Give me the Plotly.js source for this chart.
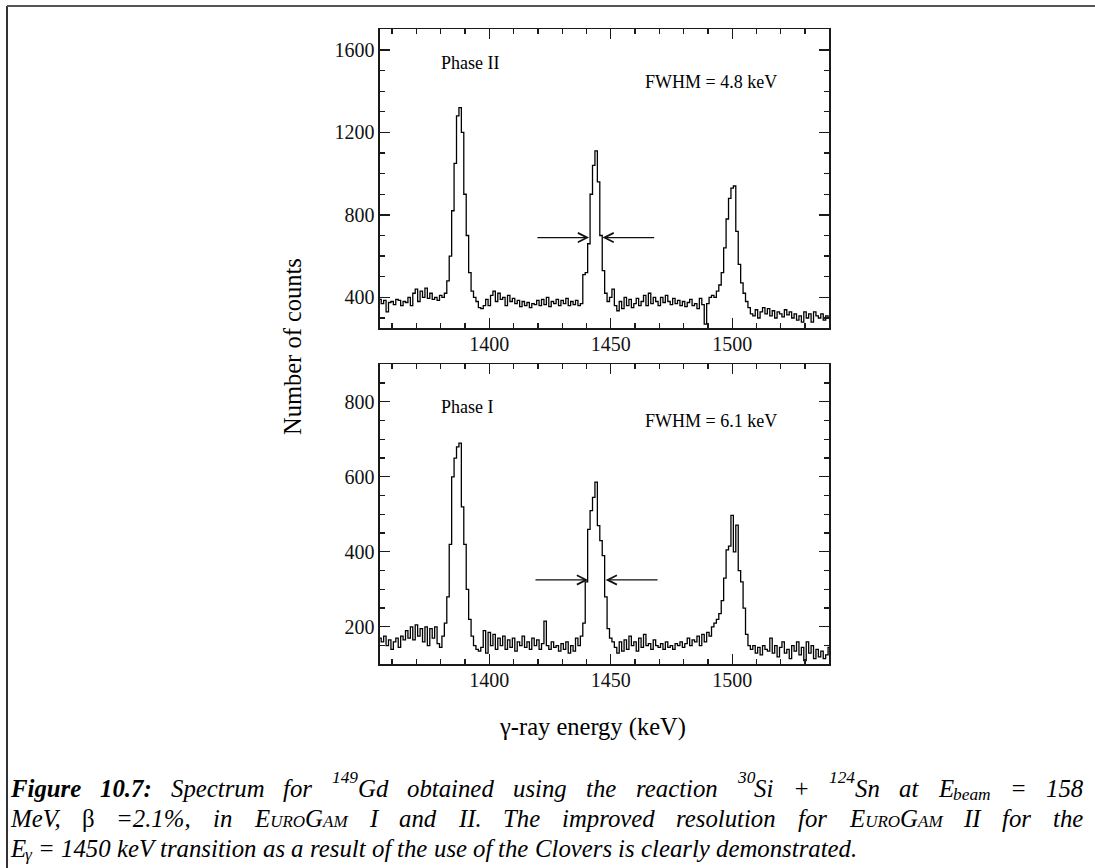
<!DOCTYPE html>
<html>
<head>
<meta charset="utf-8">
<script src="https://cdn.plot.ly/plotly-3.0.1.min.js"></script>
<style>html,body{margin:0;padding:0;background:#fff;}#chart{width:1095px;height:868px;}</style>
</head>
<body>
<div id="chart"></div>
<script>
// Energy bins (keV), 1 keV wide
const energyStart = 1355;
const energyEnd = 1540;
const energies = [];
for (let e = energyStart; e <= energyEnd; e++) energies.push(e);

// Phase II (EUROGAM II) counts, 1355..1540 keV
const countsPhaseII = [
  390, 370, 385, 330, 375, 380, 365, 390, 385,
  360, 380, 375, 400, 360, 420, 440,
  380, 430, 400, 445, 395, 420, 390, 400,
  385, 410,
  400, 420, 480, 600, 820, 1050, 1280, 1320, 1200, 900, 700, 520, 430, 400, 380, 350, 345, 360,
  390, 360, 410, 430, 380, 420, 390, 400, 360, 410, 380, 395,
  370, 385, 355, 380, 360, 375, 350, 370, 365, 385, 360, 390, 365, 400, 355, 380, 370, 390, 360, 385,
  370, 395, 360, 380, 365, 385, 360, 370,
  510, 520, 660, 900, 1040, 1110, 960, 700, 530, 420, 380,
  400, 440, 360, 335, 380, 345, 400, 360, 390, 350, 370, 395, 360, 380, 410, 360, 420, 370, 400, 380, 360,
  400, 375, 410, 380, 365, 395, 370, 385, 360, 380, 355, 375, 390, 360, 370, 345, 395, 365, 270, 370, 400, 410,
  400, 430, 460, 520, 640, 780, 880, 930, 940, 720, 560, 470, 420, 380, 350, 320,
  310, 340, 300, 330, 350, 320, 345, 310, 335, 300, 330, 320, 305, 340, 315, 330, 300, 320, 290, 310, 280, 330, 300, 320, 280, 330, 310, 300, 320, 290, 310, 300
];

// Phase I (EUROGAM I) counts, 1355..1540 keV
const countsPhaseI = [
  170, 160, 175, 150, 165, 140, 160, 170, 145, 175, 165, 190, 170, 200, 165, 205, 175, 195, 160, 200, 150, 195, 170, 200, 155, 145,
  175, 210, 280, 420, 600, 650, 680, 690, 520, 420, 300, 220, 175, 150, 140,
  135, 145, 190, 130, 185, 150, 180, 140, 170, 150, 175, 140, 165, 145, 170, 135, 160, 150, 175, 145, 160, 140, 170, 150, 165, 140, 155, 215, 150, 140, 160, 145, 150, 135, 155, 140, 160, 130, 150, 135, 170,
  150, 175, 210, 320, 460, 510, 545, 586, 470, 430, 390, 280, 195, 170, 160,
  145, 130, 160, 135, 165, 140, 175, 150, 160, 135, 170, 145, 180, 150, 155, 140, 165, 150, 145, 155, 140, 160, 145, 150, 140, 155, 150, 160, 145, 155, 170, 150, 165, 160, 175, 150, 180, 160, 185, 175, 200,
  210, 220, 235, 270, 330, 405, 415, 497, 400, 471, 350, 320, 250, 180, 150, 140,
  150, 130, 145, 125, 150, 140, 135, 170, 130, 150, 120, 145, 160, 130, 140, 115, 150, 135, 160, 125, 145, 110, 160, 130, 150, 115, 140, 120, 135, 115, 125, 145
];

// Axis ticks
const xTickVals = [1400, 1450, 1500];
const yTickValsII = [400, 800, 1200, 1600];
const yTickValsI = [200, 400, 600, 800];

// FWHM arrow positions (keV, counts): [left tail, left tip, right tip, right tail, level]
const arrowsII = [1419.2, 1441.1, 1446.6, 1468.5, 690];
const arrowsI = [1418.4, 1440.7, 1447.9, 1469.9, 325];

// Caption words: each word is a list of [text, kind] pieces
// kinds: 'bi' bold italic, 'i' italic, 'r' roman, 'sc' italic small caps, 'sup', 'sub'
const captionLine1 = [
  [['Figure', 'bi']], [['10.7:', 'bi']], [['Spectrum', 'i']], [['for', 'i']],
  [['149', 'sup'], ['Gd', 'i']], [['obtained', 'i']], [['using', 'i']], [['the', 'i']],
  [['reaction', 'i']], [['30', 'sup'], ['Si', 'i']], [['+', 'i']], [['124', 'sup'], ['Sn', 'i']],
  [['at', 'i']], [['E', 'i'], ['beam', 'sub']], [['=', 'i']], [['158', 'i']]
];
const captionLine2 = [
  [['MeV,', 'i']], [['β', 'r']], [['=2.1%,', 'i']], [['in', 'i']], [['EuroGam', 'sc']],
  [['I', 'i']], [['and', 'i']], [['II.', 'i']], [['The', 'i']], [['improved', 'i']],
  [['resolution', 'i']], [['for', 'i']], [['EuroGam', 'sc']], [['II', 'i']], [['for', 'i']], [['the', 'i']]
];
const captionLine3 = [
  [['E', 'i'], ['γ', 'sub']], [['=', 'i']], [['1450', 'i']], [['keV', 'i']], [['transition', 'i']],
  [['as', 'i']], [['a', 'i']], [['result', 'i']], [['of', 'i']], [['the', 'i']], [['use', 'i']],
  [['of', 'i']], [['the', 'i']], [['Clovers', 'i']], [['is', 'i']], [['clearly', 'i']], [['demonstrated.', 'i']]
];

const serif = 'Liberation Serif';
const lineCol = '#1a1a1a';

const traces = [
  {x: energies, y: countsPhaseII, xaxis: 'x', yaxis: 'y', type: 'scatter', mode: 'lines',
   line: {shape: 'hvh', color: '#000', width: 1.3}, hoverinfo: 'x+y'},
  {x: energies, y: countsPhaseI, xaxis: 'x2', yaxis: 'y2', type: 'scatter', mode: 'lines',
   line: {shape: 'hvh', color: '#000', width: 1.3}, hoverinfo: 'x+y'}
];

function xAx(anchor) {
  return {
    domain: [380/1095, 829.3/1095], range: [1355, 1540], anchor: anchor,
    tickmode: 'array', tickvals: xTickVals,
    ticks: 'inside', ticklen: 10, tickwidth: 1.3, tickcolor: lineCol,
    ticklabelstandoff: -3,
    minor: {tickmode: 'linear', tick0: 1350, dtick: 10, ticks: 'inside', ticklen: 5, tickwidth: 1.3, tickcolor: lineCol, showgrid: false},
    showline: true, linecolor: lineCol, linewidth: 1.6, mirror: 'ticks',
    showgrid: false, zeroline: false,
    tickfont: {family: serif, size: 20, color: '#111'}
  };
}
function yAx(anchor, dom, rng, vals, minorD) {
  return {
    domain: dom, range: rng, anchor: anchor,
    tickmode: 'array', tickvals: vals,
    ticks: 'inside', ticklen: 10, tickwidth: 1.3, tickcolor: lineCol,
    minor: {tickmode: 'linear', tick0: 0, dtick: minorD, ticks: 'inside', ticklen: 5, tickwidth: 1.3, tickcolor: lineCol, showgrid: false},
    showline: true, linecolor: lineCol, linewidth: 1.6, mirror: 'ticks',
    showgrid: false, zeroline: false,
    tickfont: {family: serif, size: 20, color: '#111'}
  };
}

function px(x) { return x / 1095; }
function py(y) { return 1 - y / 868; }

function arrowPair(vals, xr, yr) {
  return [
    {x: vals[1], y: vals[4], ax: vals[0], ay: vals[4], xref: xr, yref: yr, axref: xr, ayref: yr,
     text: '', showarrow: true, arrowhead: 5, arrowsize: 1.4, arrowwidth: 1.3, arrowcolor: '#111'},
    {x: vals[2], y: vals[4], ax: vals[3], ay: vals[4], xref: xr, yref: yr, axref: xr, ayref: yr,
     text: '', showarrow: true, arrowhead: 5, arrowsize: 1.4, arrowwidth: 1.3, arrowcolor: '#111'}
  ];
}

const txt = (text, x, y, size, opts) => Object.assign({
  text: text, x: px(x), y: py(y), xref: 'paper', yref: 'paper', showarrow: false,
  xanchor: 'left', yanchor: 'middle', borderpad: 0, borderwidth: 0,
  font: {family: serif, size: size, color: '#000'}
}, opts || {});

// ---- caption layout (justified lines) ----
const capSize = 24.8;
const canvas = document.createElement('canvas');
const ctx = canvas.getContext('2d');
function pieceFont(kind) {
  const size = (kind === 'sup' || kind === 'sub') ? capSize * 0.7 : capSize;
  return {
    size: size,
    style: kind === 'r' ? 'normal' : 'italic',
    weight: kind === 'bi' ? 'bold' : 'normal',
    variant: kind === 'sc' ? 'small-caps' : 'normal'
  };
}
function pieceWidth(text, kind) {
  const f = pieceFont(kind);
  ctx.font = f.style + ' ' + f.variant + ' ' + f.weight + ' ' + f.size + 'px "' + serif + '"';
  return ctx.measureText(text).width;
}
function layoutLine(words, left, right, yc, justify) {
  const widths = words.map(w => w.reduce((s, p) => s + pieceWidth(p[0], p[1]), 0));
  const total = widths.reduce((a, b) => a + b, 0);
  const gap = justify ? (right - left - total) / (words.length - 1) : pieceWidth(' ', 'i');
  const out = [];
  let x = left;
  words.forEach((w, i) => {
    let xx = x;
    w.forEach(p => {
      const f = pieceFont(p[1]);
      const shift = p[1] === 'sup' ? capSize * 0.42 : (p[1] === 'sub' ? -capSize * 0.28 : 0);
      out.push(txt(p[0], xx, yc, f.size, {
        yshift: shift,
        font: {family: serif, size: f.size, color: '#000', style: f.style, weight: f.weight, variant: f.variant}
      }));
      xx += pieceWidth(p[0], p[1]);
    });
    x += widths[i] + gap;
  });
  return out;
}

const annotations = [
  txt('Phase II', 441, 63, 18),
  txt('FWHM = 4.8 keV', 645, 82, 18),
  txt('Phase I', 441, 407, 18),
  txt('FWHM = 6.1 keV', 645, 421, 18),
  txt('Number of counts', 293, 347, 24.5, {xanchor: 'center', textangle: -90}),
  txt('γ-ray energy (keV)', 592, 727, 24.5, {xanchor: 'center'})
]
  .concat(layoutLine(captionLine1, 10, 1083, 788, true))
  .concat(layoutLine(captionLine2, 10, 1083, 818, true))
  .concat(layoutLine(captionLine3, 10, 1083, 848, false))
  .concat(arrowPair(arrowsII, 'x', 'y'))
  .concat(arrowPair(arrowsI, 'x2', 'y2'));

const shapes = [
  {type: 'line', xref: 'paper', yref: 'paper', x0: px(7), x1: px(7), y0: py(6), y1: 0, line: {color: '#333', width: 2}},
  {type: 'line', xref: 'paper', yref: 'paper', x0: px(7), x1: 1, y0: py(6), y1: py(6), line: {color: '#555', width: 2}}
];

const layout = {
  width: 1095, height: 868,
  margin: {l: 0, r: 0, t: 0, b: 0},
  paper_bgcolor: '#fff', plot_bgcolor: '#fff',
  showlegend: false,
  font: {family: serif, size: 20, color: '#111'},
  xaxis: xAx('y'),
  yaxis: yAx('x', [1 - 328.3/868, 1 - 29.3/868], [250, 1700], yTickValsII, 100),
  xaxis2: xAx('y2'),
  yaxis2: yAx('x2', [1 - 664.3/868, 1 - 364.3/868], [100, 900], yTickValsI, 50),
  annotations: annotations,
  shapes: shapes
};

Plotly.newPlot('chart', traces, layout, {displayModeBar: false, staticPlot: true});
</script>
</body>
</html>
